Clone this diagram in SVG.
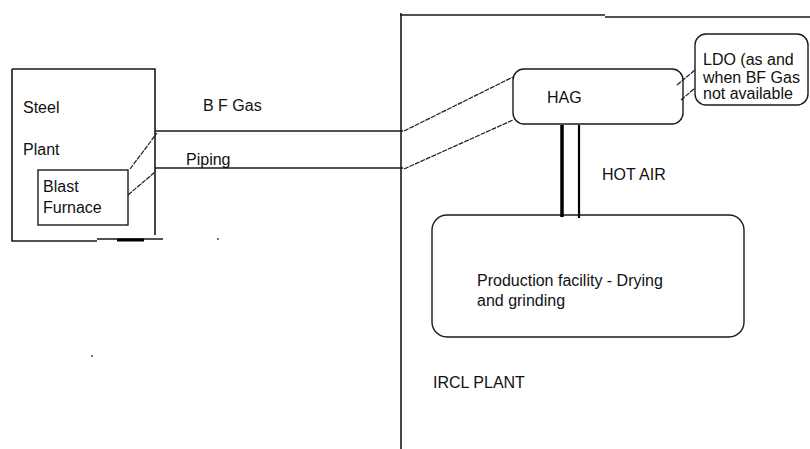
<svg xmlns="http://www.w3.org/2000/svg" width="810" height="449" viewBox="0 0 810 449">
<style>
.ln{stroke:#1a1a1a;stroke-width:1.6;fill:none}
.bx{stroke:#1a1a1a;stroke-width:1.4;fill:#fff}
.ds{stroke:#1a1a1a;stroke-width:1.2;fill:none;stroke-dasharray:5 1}
text{font-family:"Liberation Sans",Arial,sans-serif;font-size:16px;fill:#111}
</style>
<rect width="810" height="449" fill="#fff"/>
<g id="steel-plant">
<path class="ln" d="M12 69 H155 V235 M12 69 V241 H97 M97 239 H163"/>
<path d="M117 240 H144" stroke="#000" stroke-width="3"/>
<text x="23" y="113">Steel</text>
<text x="23" y="155">Plant</text>
</g>
<g id="blast-furnace">
<rect class="bx" x="38" y="170" width="90" height="55"/>
<text x="43" y="192">Blast</text>
<text x="43" y="213">Furnace</text>
</g>
<g id="ircl-plant">
<path class="ln" d="M401 13 V449 M400 15 H605 M605 17 H810"/>
<text x="433" y="388">IRCL PLANT</text>
</g>
<g id="hag">
<rect class="bx" x="513" y="69" width="170" height="55" rx="11"/>
<text x="547" y="103">HAG</text>
</g>
<g id="ldo">
<rect class="bx" x="695" y="34" width="113" height="71" rx="11"/>
<text x="703" y="65">LDO (as and</text>
<text x="703" y="83">when BF Gas</text>
<text x="703" y="99">not available</text>
</g>
<g id="production">
<rect class="bx" x="432" y="215" width="312" height="122" rx="15"/>
<text x="477" y="286">Production facility - Drying</text>
<text x="477" y="306">and grinding</text>
</g>
<g id="connectors">
<path class="ln" d="M155 131 H403 M155 168 H403"/>
<path class="ds" d="M130 169 L157 133 M128 195 L155 172"/>
<path class="ds" d="M404 131 L513 77 M404 169 L513 120"/>
<path class="ds" d="M677 85 L695 70 M681 100 L695 88"/>
<path d="M562 125 V217" stroke="#000" stroke-width="3.5"/>
<path d="M579 125 V218" stroke="#000" stroke-width="2.2"/>
</g>
<g id="labels">
<text x="203" y="111">B F Gas</text>
<text x="186" y="165">Piping</text>
<text x="602" y="180">HOT AIR</text>
</g>
<circle cx="218" cy="239" r="0.9" fill="#333"/>
<circle cx="92" cy="356" r="0.9" fill="#333"/>
</svg>
